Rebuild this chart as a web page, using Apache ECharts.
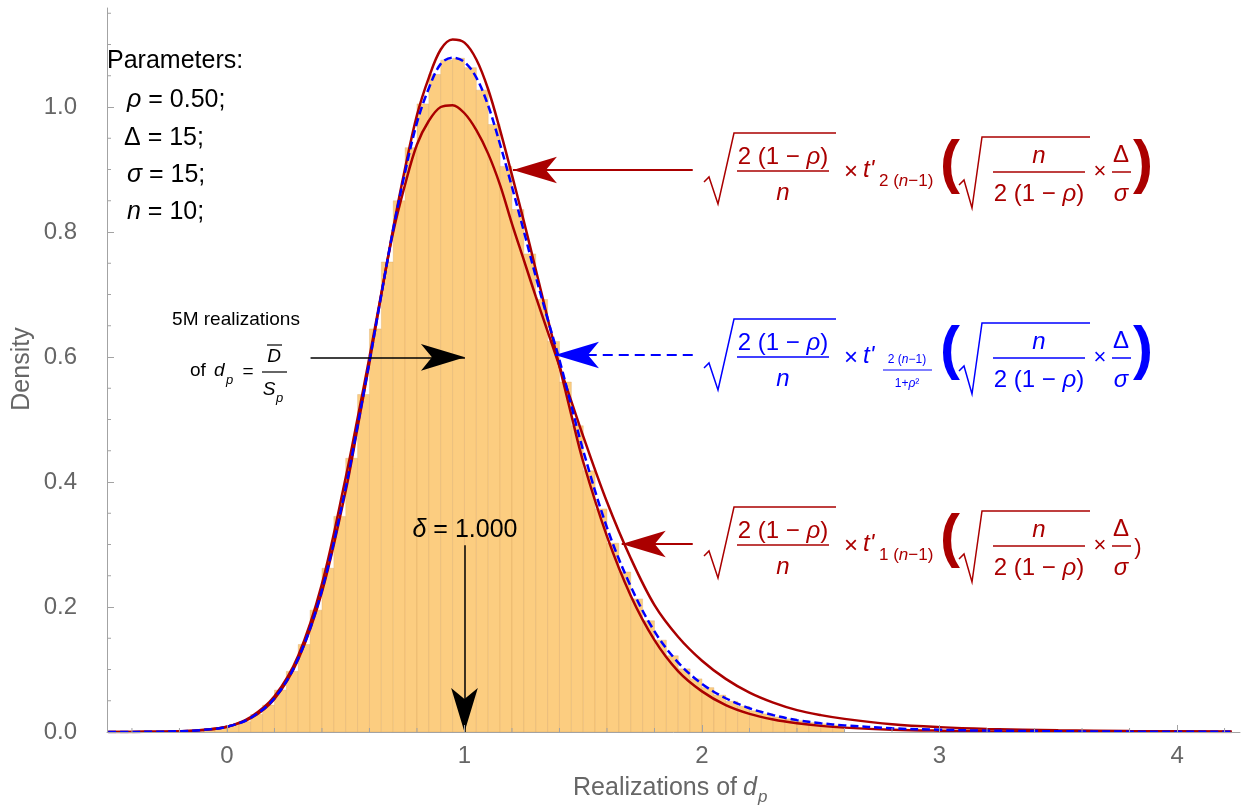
<!DOCTYPE html>
<html>
<head>
<meta charset="utf-8">
<title>Realizations of d_p</title>
<script src="https://cdn.jsdelivr.net/npm/echarts@6.0.0/dist/echarts.min.js"></script>
<style>
html, body { margin: 0; padding: 0; background: #fff; }
#chart { width: 1251px; height: 807px; }
</style>
</head>
<body>
<div id="chart"></div>
<script>
var xGrid = [-0.5, -0.4, -0.3, -0.2, -0.1, 0, 0.1, 0.2, 0.3, 0.4, 0.5, 0.55, 0.6, 0.65, 0.7, 0.75, 0.8, 0.85, 0.9, 0.95, 1.0, 1.05, 1.1,
    1.15, 1.2, 1.25, 1.3, 1.35, 1.4, 1.45, 1.5, 1.6, 1.7, 1.8, 1.9, 2.0, 2.1, 2.2, 2.3, 2.4, 2.5, 2.6, 2.8, 3.0, 3.2, 3.5, 3.8, 4.23];
// t'_{2(n-1)}  (tall dark red)
var densT2 = [0, 0.0001, 0.0004, 0.0012, 0.0033, 0.0084, 0.022, 0.053, 0.116, 0.224, 0.386, 0.487, 0.591, 0.700, 0.806, 0.902, 0.987, 1.047, 1.092, 1.108, 1.103, 1.076, 1.028,
    0.963, 0.891, 0.817, 0.740, 0.662, 0.585, 0.507, 0.432, 0.313, 0.218, 0.147, 0.097, 0.065, 0.043, 0.029, 0.020, 0.014, 0.0098, 0.0070, 0.0037, 0.0021, 0.0012, 0.0006, 0.0003, 0.0001];
// t'_{1(n-1)}  (low dark red)
var densT1 = [0, 0.0001, 0.0004, 0.0012, 0.0033, 0.0083, 0.024, 0.057, 0.122, 0.237, 0.407, 0.502, 0.600, 0.702, 0.800, 0.876, 0.940, 0.978, 1.000, 1.003, 0.990, 0.963, 0.925,
    0.875, 0.813, 0.755, 0.697, 0.641, 0.585, 0.529, 0.473, 0.368, 0.278, 0.203, 0.152, 0.114, 0.085, 0.063, 0.047, 0.035, 0.027, 0.021, 0.0125, 0.0078, 0.0050, 0.0027, 0.0015, 0.0007];
// t'_{2(n-1)/(1+rho^2)}  (blue dashed)
var densTw = [0, 0.0001, 0.0004, 0.0012, 0.0033, 0.0084, 0.0225, 0.054, 0.1175, 0.227, 0.391, 0.490, 0.593, 0.700, 0.8045, 0.896, 0.975, 1.030, 1.069, 1.079, 1.072, 1.047, 1.002,
    0.940, 0.872, 0.801, 0.729, 0.661, 0.595, 0.522, 0.450, 0.327, 0.233, 0.161, 0.111, 0.077, 0.054, 0.038, 0.027, 0.019, 0.014, 0.0106, 0.0059, 0.0036, 0.0022, 0.0012, 0.0006, 0.0003];

// histogram of the 5M realizations, bins of 0.05
var binWidth = 0.05;
var binStart = [-0.10, -0.05, 0.00, 0.05, 0.10, 0.15, 0.20, 0.25, 0.30, 0.35, 0.40, 0.45, 0.50, 0.55, 0.60, 0.65, 0.70, 0.75, 0.80, 0.85,
    0.90, 0.95, 1.00, 1.05, 1.10, 1.15, 1.20, 1.25, 1.30, 1.35, 1.40, 1.45, 1.50, 1.55, 1.60, 1.65, 1.70, 1.75, 1.80, 1.85,
    1.90, 1.95, 2.00, 2.05, 2.10, 2.15, 2.20, 2.25, 2.30, 2.35, 2.40, 2.45, 2.50, 2.55];
var binHeight = [0.004, 0.006, 0.0105, 0.0165, 0.028, 0.043, 0.067, 0.097, 0.140, 0.195, 0.262, 0.345, 0.438, 0.540, 0.645, 0.752, 0.850, 0.935, 1.005, 1.052,
    1.075, 1.078, 1.063, 1.027, 0.972, 0.905, 0.836, 0.765, 0.692, 0.625, 0.560, 0.490, 0.418, 0.357, 0.302, 0.256, 0.213, 0.178, 0.147, 0.122,
    0.101, 0.085, 0.071, 0.059, 0.049, 0.041, 0.034, 0.029, 0.024, 0.021, 0.018, 0.015, 0.013, 0.011];

var xMajorTicks = [0, 1, 2, 3, 4];
var xMinorTicks = [-0.4, -0.2, 0.2, 0.4, 0.6, 0.8, 1.2, 1.4, 1.6, 1.8, 2.2, 2.4, 2.6, 2.8, 3.2, 3.4, 3.6, 3.8, 4.2];
var yMajorTicks = [0, 0.2, 0.4, 0.6, 0.8, 1.0];
var yMinorTicks = [0.05, 0.1, 0.15, 0.25, 0.3, 0.35, 0.45, 0.5, 0.55, 0.65, 0.7, 0.75, 0.85, 0.9, 0.95, 1.05, 1.1, 1.15];

var xMin = -0.505, xMax = 4.265, yMax = 1.1584;

var FONT = '"Liberation Sans", Arial, sans-serif';
var RED = '#aa0000', BLUE = '#0000ff', AXIS = '#a3a3a3', LABEL = '#666666';

function pairs(xs, ys) {
    var out = [];
    for (var i = 0; i < xs.length; i++) out.push([xs[i], ys[i]]);
    return out;
}

function txt(x, y, s, size, col, opt) {
    opt = opt || {};
    return {
        type: 'text', x: x, y: y, z: 50, silent: true, rotation: opt.rot || 0,
        style: {
            text: s, fill: col, fontSize: size, fontFamily: FONT,
            fontStyle: opt.italic ? 'italic' : 'normal', fontWeight: opt.bold ? 'bold' : 'normal',
            align: opt.align || 'center', textAlign: opt.align || 'center',
            verticalAlign: 'middle', textVerticalAlign: 'middle',
            rich: { i: { fontStyle: 'italic', fontSize: size, fontFamily: FONT, fill: col } }
        }
    };
}
function seg(x1, x2, y, col, w) {
    return { type: 'line', z: 50, silent: true, shape: { x1: x1, y1: y, x2: x2, y2: y }, style: { stroke: col, lineWidth: w } };
}
function poly(pts, col, w) {
    return { type: 'polyline', z: 50, silent: true, shape: { points: pts }, style: { stroke: col, lineWidth: w, fill: null } };
}

// one of the three formula labels; yc = level of the main fraction bar
function formula(yc, col, kind) {
    var g = [];
    g.push(poly([[704, yc + 11], [709, yc + 6], [718, yc + 33], [734, yc - 38], [836, yc - 38]], col, 1.5));
    g.push(txt(783, yc - 14, '2 (1 − {i|ρ})', 24, col));
    g.push(seg(737, 829, yc, col, 1.5));
    g.push(txt(783, yc + 22, 'n', 24, col, { italic: true }));
    g.push(txt(851, yc + 1, '×', 24, col));
    g.push(txt(863, yc - 1, "t'", 24, col, { italic: true, align: 'left' }));
    if (kind === 2) {
        g.push(txt(907, yc + 3, '2 ({i|n}−1)', 12, col));
        g.push(seg(883, 932, yc + 13, col, 1));
        g.push(txt(907, yc + 27, '1+{i|ρ}²', 12, col));
    } else {
        g.push(txt(879, yc + 10, (kind === 1 ? '2' : '1') + ' ({i|n}−1)', 17, col, { align: 'left' }));
    }
    g.push(txt(950, yc - 6, '(', 60, col, { bold: true }));
    g.push(poly([[959, yc + 14], [964, yc + 9], [972, yc + 37], [982, yc - 34], [1090, yc - 34]], col, 1.5));
    g.push(txt(1039, yc - 15, 'n', 24, col, { italic: true }));
    g.push(seg(993, 1085, yc + 1, col, 1.5));
    g.push(txt(1039, yc + 23, '2 (1 − {i|ρ})', 24, col));
    g.push(txt(1100, yc + 1, '×', 22, col));
    g.push(txt(1121, yc - 16, 'Δ', 24, col));
    g.push(seg(1112, 1131, yc + 1, col, 1.5));
    g.push(txt(1121, yc + 23, 'σ', 24, col, { italic: true }));
    if (kind === 3) g.push(txt(1138, yc + 3, ')', 22, col));
    else g.push(txt(1143, yc - 6, ')', 60, col, { bold: true }));
    return g;
}

function arrow(from, to, col, w, dash) {
    return {
        type: 'line', data: [], silent: true, animation: false, z: 6,
        markLine: {
            silent: true, animation: false,
            label: { show: false }, emphasis: { disabled: true },
            lineStyle: { color: col, width: w, type: dash ? [10, 6] : 'solid', opacity: 1 },
            itemStyle: { color: col },
            data: [[
                { coord: from, symbol: 'none', symbolSize: 1 },
                { coord: to, symbol: 'arrow', symbolSize: [20, 44], symbolOffset: [0, 0] }
            ]]
        }
    };
}

var graphics = [];
graphics.push(txt(107, 61, 'Parameters:', 25, '#000', { align: 'left' }));
graphics.push(txt(127, 100, '{i|ρ} = 0.50;', 25, '#000', { align: 'left' }));
graphics.push(txt(124, 138, 'Δ = 15;', 25, '#000', { align: 'left' }));
graphics.push(txt(127, 175, '{i|σ} = 15;', 25, '#000', { align: 'left' }));
graphics.push(txt(127, 212, '{i|n} = 10;', 25, '#000', { align: 'left' }));

graphics.push(txt(236, 320, '5M realizations', 19, '#000'));
graphics.push(txt(190, 371, 'of', 19, '#000', { align: 'left' }));
graphics.push(txt(214, 371, 'd', 19, '#000', { align: 'left', italic: true }));
graphics.push(txt(226, 380, 'p', 13, '#000', { align: 'left', italic: true }));
graphics.push(txt(248, 372, '=', 19, '#000'));
graphics.push(txt(274, 357, 'D', 19, '#000', { italic: true }));
graphics.push(seg(267, 282, 345, '#000', 1.2));
graphics.push(seg(262, 287, 372, '#000', 1.2));
graphics.push(txt(269, 390, 'S', 19, '#000', { italic: true }));
graphics.push(txt(276, 398, 'p', 13, '#000', { align: 'left', italic: true }));

graphics.push(txt(465, 530, '{i|δ} = 1.000', 25, '#000'));

graphics.push(txt(22, 369, 'Density', 25, LABEL, { rot: Math.PI / 2 }));
graphics.push(txt(737, 788, 'Realizations of', 25, LABEL, { align: 'right' }));
graphics.push(txt(743, 788, 'd', 25, LABEL, { align: 'left', italic: true }));
graphics.push(txt(758, 797, 'p', 17, LABEL, { align: 'left', italic: true }));

graphics = graphics.concat(formula(171, RED, 1), formula(357, BLUE, 2), formula(545, RED, 3));

var chart = echarts.init(document.getElementById('chart'), null, { renderer: 'canvas' });

var option = {
    animation: false,
    backgroundColor: '#ffffff',
    grid: { left: 107, right: 11, top: 8, bottom: 75, containLabel: false, outerBoundsMode: 'none' },
    xAxis: {
        type: 'value', min: xMin, max: xMax, z: 10,
        axisLine: { show: true, onZero: true, lineStyle: { color: AXIS, width: 1 } },
        axisTick: { show: true, inside: true, length: 7, customValues: xMajorTicks, lineStyle: { color: AXIS } },
        axisLabel: { show: true, customValues: xMajorTicks, margin: 12, color: LABEL, fontSize: 24, fontFamily: FONT },
        splitLine: { show: false }
    },
    yAxis: {
        type: 'value', min: 0, max: yMax, z: 10,
        axisLine: { show: true, onZero: false, lineStyle: { color: AXIS, width: 1 } },
        axisTick: { show: true, inside: true, length: 7, customValues: yMajorTicks, lineStyle: { color: AXIS } },
        axisLabel: {
            show: true, customValues: yMajorTicks, margin: 30, color: LABEL, fontSize: 24, fontFamily: FONT,
            formatter: function (v) { return v.toFixed(1); }
        },
        splitLine: { show: false }
    },
    graphic: { elements: graphics },
    series: [
        {
            type: 'custom', name: 'histogram', z: 1, silent: true,
            data: pairs(binStart, binHeight),
            renderItem: function (params, api) {
                var x0 = api.value(0), h = api.value(1);
                var tl = api.coord([x0, h]);
                var br = api.coord([x0 + binWidth, 0]);
                return {
                    type: 'rect',
                    shape: { x: tl[0], y: tl[1], width: br[0] - tl[0], height: br[1] - tl[1] },
                    style: { fill: '#fccd80', stroke: 'rgba(214,160,90,0.45)', lineWidth: 0.7 }
                };
            }
        },
        {
            type: 'line', name: "t'1(n-1)", z: 3, silent: true, showSymbol: false, smooth: 0.35,
            data: pairs(xGrid, densT1), lineStyle: { color: RED, width: 2.5 }
        },
        {
            type: 'line', name: "t'2(n-1)", z: 3, silent: true, showSymbol: false, smooth: 0.35,
            data: pairs(xGrid, densT2), lineStyle: { color: RED, width: 2.5 }
        },
        {
            type: 'line', name: "t'2(n-1)/(1+rho^2)", z: 4, silent: true, showSymbol: false, smooth: 0.35,
            data: pairs(xGrid, densTw), lineStyle: { color: BLUE, width: 2.5, type: [8, 4] }
        },
        {
            // minor ticks on both axes
            type: 'custom', z: 12, silent: true, clip: false,
            data: xMinorTicks.map(function (v) { return [v, 0, 0]; }).concat(yMinorTicks.map(function (v) { return [xMin, v, 1]; })),
            renderItem: function (params, api) {
                var p = api.coord([api.value(0), api.value(1)]);
                var vertical = api.value(2) === 0;
                return {
                    type: 'line',
                    shape: vertical ? { x1: p[0], y1: p[1], x2: p[0], y2: p[1] - 4 } : { x1: p[0], y1: p[1], x2: p[0] + 4, y2: p[1] },
                    style: { stroke: AXIS, lineWidth: 1 }
                };
            }
        },
        arrow([1.961, 0.8992], [1.204, 0.8992], RED, 2, false),
        arrow([1.961, 0.6032], [1.381, 0.6032], BLUE, 1.8, true),
        arrow([1.961, 0.3008], [1.662, 0.3008], RED, 2, false),
        arrow([0.352, 0.5995], [1.002, 0.5995], '#000', 1.5, false),
        arrow([1.0, 0.299], [1.0, 0.0], '#000', 1.5, false)
    ]
};
chart.setOption(option);
</script>
</body>
</html>
